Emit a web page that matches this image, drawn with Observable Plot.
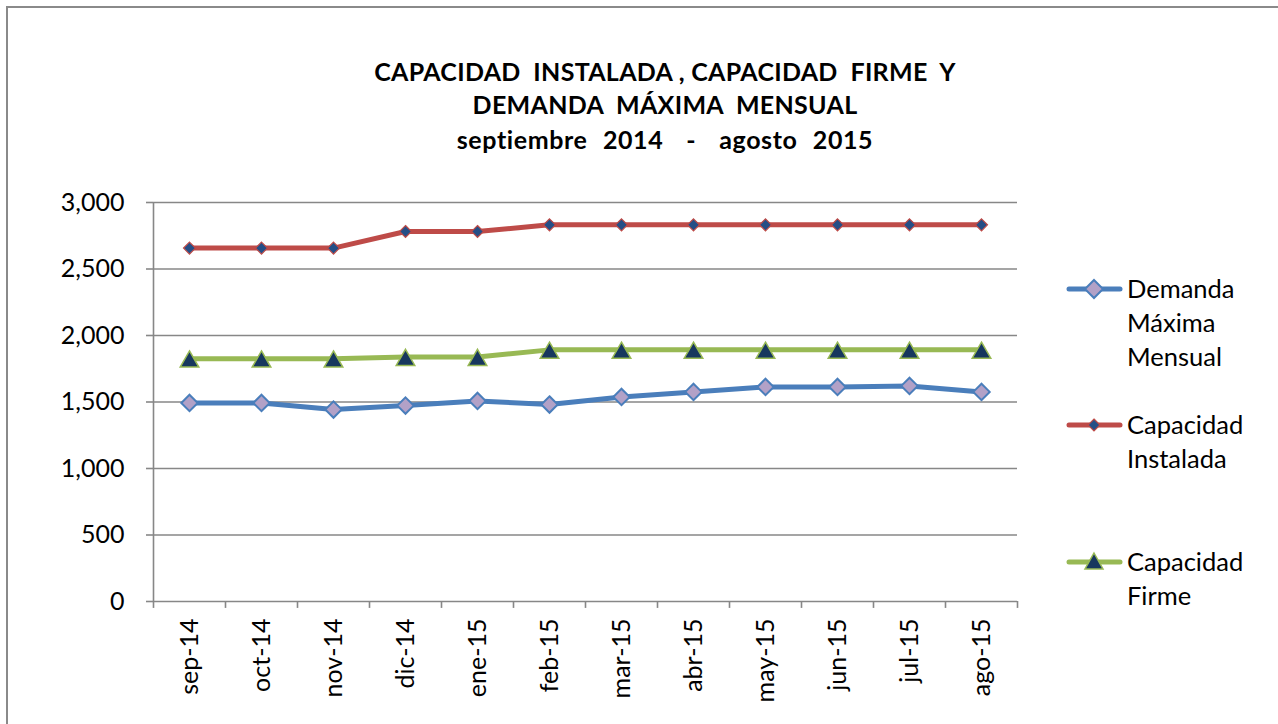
<!DOCTYPE html>
<html>
<head>
<meta charset="utf-8">
<script src="https://cdn.jsdelivr.net/npm/d3@7"></script>
<script src="https://cdn.jsdelivr.net/npm/@observablehq/plot@0.6"></script>
<style>
  body { margin: 0; background: #fff; }
  #wrap { position: relative; width: 1278px; height: 724px; overflow: hidden; font-family: Lato, "Open Sans", sans-serif; color: #000; }
  #frame { position: absolute; left: 6px; top: 6px; width: 1400px; height: 900px; border-left: 2px solid #8a8a8a; border-top: 2px solid #8a8a8a; pointer-events: none; }
  #chart { position: absolute; left: 0; top: 0; }
  .tl { position: absolute; left: 0; width: 1330px; text-align: center; font-weight: bold; font-size: 25px; letter-spacing: 0.3px; white-space: pre; line-height: 1; }
  .lg { position: absolute; left: 1066px; display: flex; align-items: flex-start; }
  .lg svg { flex: none; }
  .lg .txt { font-size: 25.5px; line-height: 34px; margin-left: 3px; }
</style>
</head>
<body>
<div id="wrap">
  <div id="chart"></div>
  <div id="frame"></div>
  <div class="tl" id="t1" style="top:59px">CAPACIDAD  INSTALADA , CAPACIDAD  FIRME  Y</div>
  <div class="tl" id="t2" style="top:92px">DEMANDA  MÁXIMA  MENSUAL</div>
  <div class="tl" id="t3" style="top:127px;letter-spacing:0.6px;word-spacing:1px">septiembre  2014   -   agosto  2015</div>
  <div id="legend"></div>
</div>
<script>
const months = ["sep-14","oct-14","nov-14","dic-14","ene-15","feb-15","mar-15","abr-15","may-15","jun-15","jul-15","ago-15"];
const demanda   = [1493,1493,1443,1473,1508,1481,1538,1576,1613,1613,1621,1576];
const instalada = [2657,2657,2657,2782,2782,2832,2832,2832,2832,2832,2832,2832];
const firme     = [1826,1826,1826,1838,1838,1892,1892,1892,1892,1892,1892,1892];
const yTicks = [0,500,1000,1500,2000,2500,3000];
const seriesNames = ["Demanda\nMáxima\nMensual","Capacidad\nInstalada","Capacidad\nFirme"];

const colors = {dem: "#4a7ebb", inst: "#be4b48", firm: "#98b954"};
const rows = (vals) => months.map((m, i) => ({month: m, value: vals[i]}));
const dem = rows(demanda), ins = rows(instalada), fir = rows(firme);
const fmt = d3.format(",");

const chart = Plot.plot({
  width: 1278,
  height: 724,
  marginLeft: 153,
  marginRight: 261,
  marginTop: 202,
  marginBottom: 123,
  style: {fontFamily: "Lato, 'Open Sans', sans-serif", fontSize: "25px", color: "#000", background: "transparent"},
  x: {type: "band", domain: months, padding: 0, axis: null},
  y: {domain: [0, 3000], axis: null},
  marks: [
    Plot.ruleY(yTicks.filter(d => d > 0), {stroke: "#878787", strokeWidth: 1.6}),
    Plot.ruleY([0], {stroke: "#878787", strokeWidth: 1.6}),
    // category boundary ticks (band edges)
    Plot.ruleX(months, {x: d => d, y1: 0, y2: -52, dx: -36, stroke: "#878787", strokeWidth: 1.6}),
    Plot.ruleX(months.slice(-1), {x: d => d, y1: 0, y2: -52, dx: 36, stroke: "#878787", strokeWidth: 1.6}),
    // y axis line
    Plot.ruleX(months.slice(0, 1), {x: d => d, y1: 0, y2: 3000, dx: -36, stroke: "#878787", strokeWidth: 1.6}),
    Plot.axisY({ticks: yTicks, tickFormat: fmt, tickSize: 7, tickPadding: 22, stroke: "#878787", strokeWidth: 1.6, fontSize: 25, label: null}),
    Plot.axisX({tickSize: 0, tickPadding: 17, tickRotate: -90, fontSize: 25, label: null}),
    Plot.line(dem, {x: "month", y: "value", stroke: colors.dem, strokeWidth: 5}),
    Plot.line(ins, {x: "month", y: "value", stroke: colors.inst, strokeWidth: 5}),
    Plot.line(fir, {x: "month", y: "value", stroke: colors.firm, strokeWidth: 5}),
    Plot.dot(ins, {x: "month", y: "value", symbol: "diamond2", r: 5.4, fill: "#254e86", stroke: "#be4b48", strokeWidth: 1.2}),
    Plot.dot(fir, {x: "month", y: "value", symbol: "triangle", r: 6.9, dy: 3, fill: "#17375e", stroke: "#98b954", strokeWidth: 1.5}),
    Plot.dot(dem, {x: "month", y: "value", symbol: "diamond2", r: 7.4, fill: "#b2a1c7", stroke: "#4a7ebb", strokeWidth: 2})
  ]
});
document.getElementById("chart").appendChild(chart);

// legend
const legendTops = [271, 407, 544];
const swatch = (i) => {
  const lineC = [colors.dem, colors.inst, colors.firm][i];
  let marker;
  if (i === 0) marker = `<path d="M28,9 L37,18 L28,27 L19,18 Z" fill="#b2a1c7" stroke="${colors.dem}" stroke-width="2"/>`;
  else if (i === 1) marker = `<path d="M28,12 L34,18 L28,24 L22,18 Z" fill="#254e86" stroke="#be4b48" stroke-width="1.2"/>`;
  else marker = `<path d="M28,9 L37,25 L19,25 Z" fill="#17375e" stroke="#98b954" stroke-width="1.5"/>`;
  return `<svg width="58" height="36"><line x1="3" y1="18" x2="54" y2="18" stroke="${lineC}" stroke-width="5" stroke-linecap="round"/>${marker}</svg>`;
};
const legend = document.getElementById("legend");
seriesNames.forEach((name, i) => {
  const d = document.createElement("div");
  d.className = "lg";
  d.style.top = legendTops[i] + "px";
  d.innerHTML = swatch(i) + `<div class="txt">${name.split("\n").join("<br>")}</div>`;
  legend.appendChild(d);
});
</script>
</body>
</html>
